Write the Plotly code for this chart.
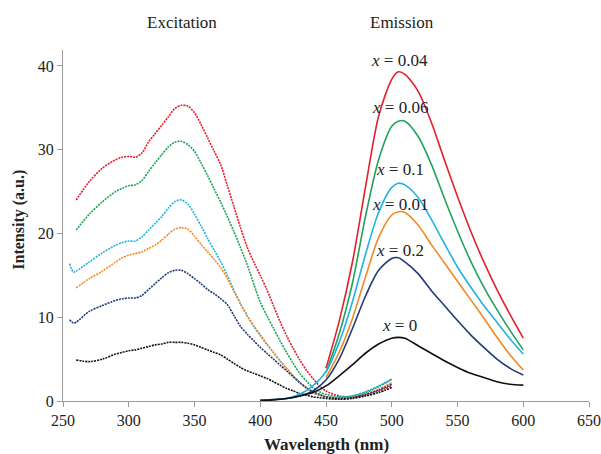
import plotly.graph_objects as go

# Composition labels and line colours
labels = ["x = 0.04", "x = 0.06", "x = 0.1", "x = 0.01", "x = 0.2", "x = 0"]
colors = ["#e3202c", "#22a15c", "#22b2e0", "#ef8a26", "#1e3a78", "#111111"]

# Excitation spectra (nm, intensity)
exc_wl_a = [260, 270, 280, 290, 295, 300, 305, 310, 315, 320, 325, 330, 335, 340, 345, 350,
            355, 360, 365, 370, 375, 380, 385, 390, 395, 400, 405, 410, 415, 420, 425, 430,
            435, 440, 445, 450, 460, 470, 480, 490, 500]
exc_wl_b = [255, 258] + exc_wl_a

exc_004 = [24.0, 26.2, 27.8, 28.8, 29.1, 29.2, 29.1, 29.6, 30.9, 31.9, 32.9, 33.9, 34.9, 35.3,
           35.2, 34.4, 33.0, 31.4, 29.8, 28.2, 25.7, 23.2, 20.7, 18.4, 16.6, 15.0, 13.3, 11.4,
           9.5, 7.8, 6.3, 4.9, 3.7, 2.7, 1.8, 1.2, 0.6, 0.5, 0.7, 1.2, 1.8]
exc_006 = [20.4, 22.3, 23.8, 25.0, 25.4, 25.7, 25.8, 26.3, 27.4, 28.4, 29.4, 30.3, 30.9, 31.0,
           30.6, 29.8, 28.4, 26.9, 25.3, 23.7, 22.0, 20.2, 18.3, 16.3, 14.0, 11.8, 10.2, 8.7,
           7.2, 5.8, 4.5, 3.3, 2.4, 1.6, 1.1, 0.8, 0.5, 0.6, 1.0, 1.7, 2.6]
exc_01 = [16.4, 15.4, 15.5, 16.6, 17.7, 18.6, 18.9, 19.1, 19.1, 19.6, 20.4, 21.2, 22.0, 23.0,
          23.8, 24.0, 23.5, 22.3, 20.9, 19.4, 18.0, 16.6, 15.0, 13.2, 11.6, 10.2, 8.9, 7.8,
          6.8, 5.8, 4.8, 3.9, 3.0, 2.2, 1.6, 1.0, 0.7, 0.5, 0.4, 0.6, 1.1, 1.8, 2.6]
exc_001 = [13.5, 14.6, 15.5, 16.6, 17.1, 17.4, 17.6, 17.8, 18.2, 18.6, 19.2, 19.9, 20.5, 20.7,
           20.5, 19.7, 18.7, 17.8, 16.9, 15.9, 14.6, 13.1, 11.6, 10.2, 9.0, 7.9, 6.8, 5.8,
           4.8, 3.9, 3.0, 2.2, 1.5, 1.0, 0.7, 0.5, 0.3, 0.4, 0.8, 1.4, 2.2]
exc_02 = [9.7, 9.3, 9.4, 10.7, 11.4, 12.0, 12.2, 12.3, 12.3, 12.6, 13.3, 14.0, 14.7, 15.3,
          15.6, 15.6, 15.2, 14.6, 14.0, 13.3, 12.8, 12.2, 11.5, 10.2, 8.9, 8.0, 7.2, 6.4,
          5.7, 5.0, 4.3, 3.6, 2.9, 2.2, 1.6, 1.1, 0.8, 0.5, 0.3, 0.4, 0.8, 1.3, 2.0]
exc_0 = [4.9, 4.7, 5.0, 5.6, 5.8, 6.0, 6.1, 6.3, 6.5, 6.7, 6.8, 7.0, 7.0, 7.0,
         6.9, 6.7, 6.4, 6.1, 5.8, 5.5, 5.0, 4.5, 4.0, 3.6, 3.3, 3.0, 2.7, 2.3,
         1.9, 1.5, 1.2, 0.9, 0.7, 0.5, 0.4, 0.3, 0.2, 0.3, 0.6, 1.0, 1.6]

# Emission spectra (nm, intensity)
em_wl_a = [450, 460, 470, 480, 490, 500, 505, 510, 520, 530, 540, 550, 560, 570, 580, 590, 600]
em_wl_b = [400, 420, 430, 440] + em_wl_a

em_004 = [3.9, 9.5, 16.5, 25.5, 34.0, 38.4, 39.3, 39.0, 37.0, 33.3, 28.8, 24.4, 20.3, 16.6,
          13.3, 10.3, 7.5]
em_006 = [3.4, 8.0, 14.0, 22.0, 28.8, 32.8, 33.4, 33.4, 31.6, 28.3, 24.2, 20.3, 16.7, 13.6,
          10.9, 8.4, 6.1]
em_01 = [0.1, 0.3, 0.8, 1.8, 3.5, 7.0, 11.8, 17.5, 22.5, 25.5, 26.0, 25.8, 24.3, 21.7, 18.8,
         16.0, 13.6, 11.4, 9.4, 7.4, 5.6]
em_001 = [2.8, 5.8, 9.8, 14.8, 19.5, 22.2, 22.6, 22.5, 21.0, 18.7, 16.5, 14.3, 12.1, 9.9,
          7.6, 5.5, 3.7]
em_02 = [0.1, 0.3, 0.6, 1.2, 2.5, 5.0, 8.6, 12.5, 15.6, 17.0, 17.1, 16.6, 15.2, 13.2, 11.4,
         9.6, 7.9, 6.4, 5.0, 3.9, 3.1]
em_0 = [0.0, 0.3, 0.6, 1.0, 1.8, 3.0, 4.3, 5.7, 6.8, 7.5, 7.6, 7.5, 6.6, 5.7, 4.8,
        4.0, 3.3, 2.8, 2.3, 2.0, 1.9]

excitation = [(exc_wl_a, exc_004), (exc_wl_a, exc_006), (exc_wl_b, exc_01),
              (exc_wl_a, exc_001), (exc_wl_b, exc_02), (exc_wl_a, exc_0)]
emission = [(em_wl_a, em_004), (em_wl_a, em_006), (em_wl_b, em_01),
            (em_wl_a, em_001), (em_wl_b, em_02), (em_wl_b, em_0)]

# Label anchor points (nm, intensity)
label_x = [506, 506, 506, 506, 506, 506]
label_y = [40.7, 35.0, 27.6, 23.5, 18.0, 9.0]

fig = go.Figure()

for (wl, vals), c in zip(excitation, colors):
    fig.add_trace(go.Scatter(x=wl, y=vals, mode="lines",
                             line=dict(color=c, width=1.6, dash="2px,1px", shape="spline",
                                       smoothing=0.8),
                             hoverinfo="skip"))

for (wl, vals), c in zip(emission, colors):
    fig.add_trace(go.Scatter(x=wl, y=vals, mode="lines",
                             line=dict(color=c, width=1.6, shape="spline", smoothing=0.8),
                             hoverinfo="skip"))

serif = "Liberation Serif, Times New Roman, serif"

for lab, lx, ly in zip(labels, label_x, label_y):
    fig.add_annotation(x=lx, y=ly, xref="x", yref="y", showarrow=False,
                       xanchor="center", yanchor="middle",
                       text="<i>x</i>" + lab[1:],
                       font=dict(family=serif, size=17, color="#222"))

# Panel headings
fig.add_annotation(x=0.226, y=1.077, xref="paper", yref="paper", showarrow=False,
                   xanchor="center", yanchor="middle",
                   text="Excitation", font=dict(family=serif, size=17, color="#222"))
fig.add_annotation(x=0.644, y=1.077, xref="paper", yref="paper", showarrow=False,
                   xanchor="center", yanchor="middle",
                   text="Emission", font=dict(family=serif, size=17, color="#222"))

# Axis titles
fig.add_annotation(x=0.5, y=-0.125, xref="paper", yref="paper", showarrow=False,
                   xanchor="center", yanchor="middle",
                   text="<b>Wavelength (nm)</b>", font=dict(family=serif, size=17, color="#222"))
fig.add_annotation(x=-0.084, y=0.516, xref="paper", yref="paper", showarrow=False,
                   xanchor="center", yanchor="middle", textangle=-90,
                   text="<b>Intensity (a.u.)</b>", font=dict(family=serif, size=16, color="#222"))

fig.update_layout(
    width=601, height=454,
    margin=dict(l=63, r=12, t=50, b=53),
    paper_bgcolor="white", plot_bgcolor="white",
    showlegend=False,
    font=dict(family=serif, size=16, color="#222"),
)
fig.update_xaxes(range=[250, 650], tickvals=[250, 300, 350, 400, 450, 500, 550, 600, 650],
                 showgrid=False, zeroline=False, showline=True, linecolor="#9a9a9a",
                 linewidth=1, ticks="outside", ticklen=5, tickcolor="#9a9a9a",
                 automargin=False)
fig.update_yaxes(range=[0, 41.9], tickvals=[0, 10, 20, 30, 40],
                 showgrid=False, zeroline=False, showline=True, linecolor="#9a9a9a",
                 linewidth=1, ticks="outside", ticklen=5, tickcolor="#9a9a9a",
                 automargin=False)

fig.write_html("out.html")
